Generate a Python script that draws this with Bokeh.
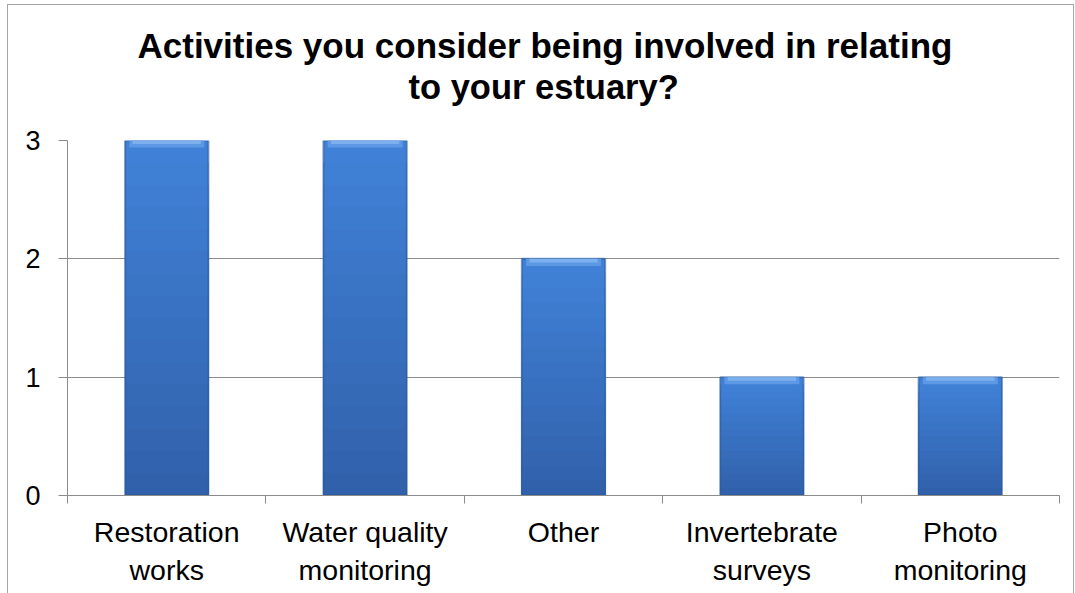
from bokeh.plotting import figure
from bokeh.models import Range1d, FixedTicker, Title, ColumnDataSource
from bokeh.embed import file_html
from bokeh.resources import INLINE

categories = ["Restoration\nworks", "Water quality\nmonitoring", "Other",
              "Invertebrate\nsurveys", "Photo\nmonitoring"]
values = [3, 3, 2, 1, 1]
y_ticks = [0, 1, 2, 3]
title_line1 = "Activities you consider being involved in relating"
title_line2 = "to your estuary?"

FONT = "Liberation Sans"
centers = [i + 0.5 for i in range(len(categories))]

p = figure(width=1067, height=589, output_backend="svg", toolbar_location=None,
           x_range=Range1d(0, len(categories)), y_range=Range1d(0, max(y_ticks)),
           min_border_left=59, min_border_right=16, min_border_top=135,
           min_border_bottom=99)
p.styles = {"border-top": "1px solid #A6A6A6", "border-left": "1px solid #A6A6A6",
            "border-right": "1px solid #A6A6A6",
            "margin-left": "7px", "margin-top": "4px"}
p.outline_line_color = None
p.background_fill_color = "white"
p.border_fill_color = "white"

BW = 0.42
# vertical gradient: overlapping rects from 0, tallest (lightest) first
N = 16
top_c = (64, 130, 216)
bot_c = (49, 96, 170)
xs, tops, cols = [], [], []
for k in range(N - 1, -1, -1):
    f = (k + 0.5) / N
    col = tuple(int(round(bot_c[j] + (top_c[j] - bot_c[j]) * f)) for j in range(3))
    for c, v in zip(centers, values):
        xs.append(c)
        tops.append(v * (k + 1) / N)
        cols.append("#%02x%02x%02x" % col)
grad = ColumnDataSource(dict(x=xs, top=tops, color=cols))
src = ColumnDataSource(dict(x=centers, top=values,
                            hl_bottom=[v - 0.06 for v in values],
                            hl2_bottom=[v - 0.03 for v in values]))

p.vbar(x="x", top="top", bottom=0, width=BW, source=grad,
       fill_color="color", line_color=None)
# darker side edges
p.vbar(x="x", top="top", bottom=0, width=BW, source=src,
       fill_color=None, line_color="#2C5CA0", line_width=2, line_alpha=0.6)
# top bevel highlight
p.vbar(x="x", top="top", bottom="hl_bottom", width=BW * 0.9, source=src,
       fill_color="#5C98E4", line_color=None)
p.vbar(x="x", top="top", bottom="hl2_bottom", width=BW * 0.82, source=src,
       fill_color="#7DB0EE", line_color=None)

# x axis
xa = p.xaxis[0]
xa.ticker = FixedTicker(ticks=centers, minor_ticks=list(range(len(categories) + 1)))
xa.major_label_overrides = {c: lab for c, lab in zip(centers, categories)}
xa.major_tick_line_color = None
xa.minor_tick_out = 8
xa.minor_tick_in = 0
xa.minor_tick_line_color = "#8C8C8C"
xa.axis_line_color = "#8C8C8C"
xa.major_label_text_font = FONT
xa.major_label_text_font_size = "28.5px"
xa.major_label_text_color = "black"
xa.major_label_standoff = 12

ya = p.yaxis[0]
ya.ticker = FixedTicker(ticks=y_ticks)
ya.major_tick_out = 9
ya.major_tick_in = 0
ya.minor_tick_line_color = None
ya.major_tick_line_color = "#8C8C8C"
ya.axis_line_color = "#8C8C8C"
ya.major_label_text_font = FONT
ya.major_label_text_font_size = "27px"
ya.major_label_text_color = "black"
ya.major_label_standoff = 18

p.xgrid.grid_line_color = None
p.ygrid.grid_line_color = "#8C8C8C"
p.ygrid.grid_line_width = 1

p.title = Title(text=title_line1, align="left", offset=70, standoff=-68,
                text_font=FONT, text_font_size="35px", text_font_style="bold",
                text_color="black")
p.add_layout(Title(text=title_line2, align="left", offset=341, standoff=70,
                   text_font=FONT, text_font_size="34.5px", text_font_style="bold",
                   text_color="black"), "above")

open("out.html", "w").write(file_html(p, INLINE))
